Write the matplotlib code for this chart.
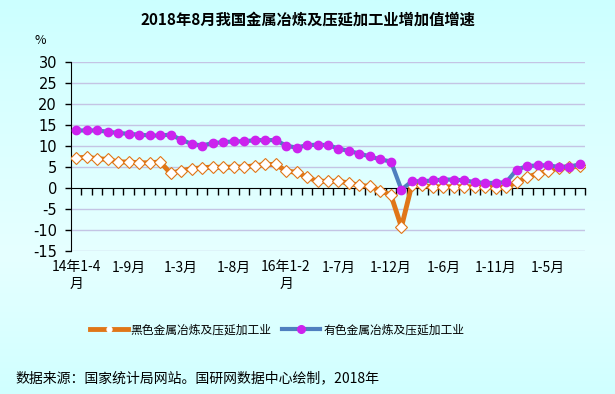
import numpy as np
import matplotlib
matplotlib.use("Agg")
import matplotlib.pyplot as plt
from matplotlib.lines import Line2D
from matplotlib.colors import LinearSegmentedColormap

plt.rcParams['font.family'] = ['Noto Sans CJK SC', 'DejaVu Sans']

title = "2018年8月我国金属冶炼及压延加工业增加值增速"
series_names = ["黑色金属冶炼及压延加工业", "有色金属冶炼及压延加工业"]
source = "数据来源：国家统计局网站。国研网数据中心绘制，2018年"

ferrous = [7.2, 7.3, 7.0, 6.8, 6.2, 6.2, 6.0, 6.0, 6.2, 3.5,
           4.1, 4.6, 4.8, 5.0, 4.9, 5.0, 5.0, 5.3, 5.6, 5.6,
           4.1, 3.7, 2.6, 1.6, 1.6, 1.6, 1.2, 0.6, 0.4, -0.6,
           -1.7, -9.3, 0.8, 0.6, 0.3, 0.3, 0.3, 0.3, 0.3, 0.3,
           0.1, 0.2, 1.4, 2.6, 3.4, 4.0, 4.8, 5.1, 5.2]
nonferrous = [13.7, 13.7, 13.7, 13.4, 13.1, 12.9, 12.7, 12.5, 12.5, 12.7,
              11.5, 10.5, 10.1, 10.7, 10.9, 11.1, 11.1, 11.4, 11.4, 11.4,
              10.1, 9.6, 10.2, 10.3, 10.2, 9.4, 8.8, 8.2, 7.5, 6.8,
              6.3, -0.4, 1.6, 1.6, 1.8, 2.0, 2.0, 1.8, 1.4, 1.2,
              1.2, 1.4, 4.4, 5.2, 5.4, 5.4, 5.0, 5.1, 5.6]
xlabel_pos = [0, 5, 10, 15, 20, 25, 30, 35, 40, 45]
xlabels = ["14年1-4\n月", "1-9月", "1-3月", "1-8月", "16年1-2\n月",
           "1-7月", "1-12月", "1-6月", "1-11月", "1-5月"]
yticks = [-15, -10, -5, 0, 5, 10, 15, 20, 25, 30]

W, H = 615, 394
fig = plt.figure(figsize=(W / 100, H / 100), dpi=100)

# background gradient
bg = fig.add_axes([0, 0, 1, 1], zorder=-10)
cmap = LinearSegmentedColormap.from_list(
    "bg", [(0.0, "#d0ffff"), (0.35, "#e6ffff"), (0.8, "#d6ffff"), (1.0, "#ccffff")])
grad = np.linspace(0, 1, 256).reshape(-1, 1)
bg.imshow(grad, aspect="auto", cmap=cmap, extent=[0, 1, 0, 1], origin="lower")
bg.axis("off")

left, right, top, bottom = 71, 585, 62, 251
ax = fig.add_axes([left / W, 1 - bottom / H, (right - left) / W, (bottom - top) / H])
ax.set_facecolor("none")

n = len(ferrous)
x = np.arange(n)
ax.set_xlim(-0.5, n - 0.5)
ax.set_ylim(-15, 30)

for y in yticks:
    if y != 0:
        ax.axhline(y, color="#c4c4e4", lw=1.0, zorder=0)

ax.plot(x, ferrous, color="#e07618", lw=3.5, marker="D", ms=6.5,
        mfc="white", mec="#e07618", mew=0.8, zorder=3)
ax.plot(x, nonferrous, color="#4f7fbf", lw=3.0, marker="o", ms=6,
        mfc="#cc22ee", mec="#cc22ee", zorder=4)

for s in ["top", "right"]:
    ax.spines[s].set_visible(False)
ax.spines["bottom"].set_position(("data", 0))
ax.spines["bottom"].set_color("black")
ax.spines["left"].set_color("black")
ax.set_xticks(np.arange(0.5, n, 1))
ax.set_xticklabels([])
ax.tick_params(axis="x", direction="out", length=5, width=1, color="black")
ax.set_yticks(yticks)
ax.set_yticklabels([str(v) for v in yticks], fontsize=10.5, family=["DejaVu Sans"])
ax.tick_params(axis="y", direction="out", length=4, width=1, pad=6)

for p, lab in zip(xlabel_pos, xlabels):
    ax.text(p, -0.05, lab, transform=ax.get_xaxis_transform(), ha="center",
            va="top", fontsize=10, linespacing=1.25)

fig.text(0.5, 1 - 20 / H, title, ha="center", va="center",
         fontsize=11, fontweight="bold")
fig.text(40 / W, 1 - 40 / H, "%", ha="center", va="center", fontsize=9)

handles = [Line2D([0], [0], color="#e07618", lw=3.5, marker="o", ms=3.5,
                  mfc="white", mec="white"),
           Line2D([0], [0], color="#4f7fbf", lw=3.0, marker="o", ms=5.5,
                  mfc="#cc22ee", mec="#cc22ee")]
fig.legend(handles, series_names, loc="center", bbox_to_anchor=(277 / W, 1 - 330 / H),
           ncol=2, frameon=False, fontsize=8.5, handlelength=3.2,
           columnspacing=0.9, handletextpad=0.25)

fig.text(15 / W, 1 - 378 / H, source, ha="left", va="center", fontsize=10)

fig.savefig("out.png", dpi=100)
